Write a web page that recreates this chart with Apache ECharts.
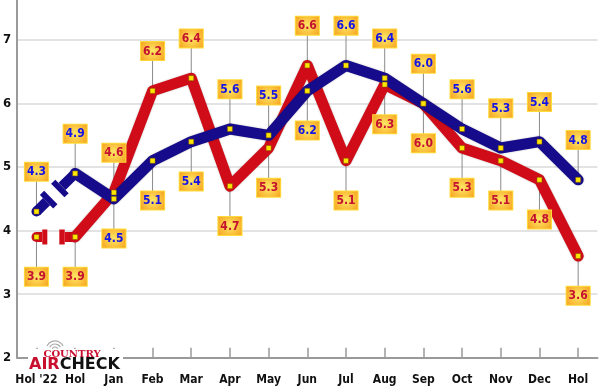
<!DOCTYPE html>
<html><head><meta charset="utf-8">
<script src="https://cdn.jsdelivr.net/npm/echarts@6/dist/echarts.min.js"></script>
<style>html,body{margin:0;padding:0;background:#fff}#c{width:600px;height:392px}</style>
</head><body><div id="c"></div>
<script>
const categories = ["Hol '22","Hol","Jan","Feb","Mar","Apr","May","Jun","Jul","Aug","Sep","Oct","Nov","Dec","Hol"];
const redValues  = [3.9,3.9,4.6,6.2,6.4,4.7,5.3,6.6,5.1,6.3,6.0,5.3,5.1,4.8,3.6];
const blueValues = [4.3,4.9,4.5,5.1,5.4,5.6,5.5,6.2,6.6,6.4,6.0,5.6,5.3,5.4,4.8];
const yMin = 2, yMax = 7.63, yStep = 1;

const FONT = "'DejaVu Sans Condensed','DejaVu Sans',sans-serif";
const RED = '#cf0c17', BLUE = '#160b8a';
const RED_TXT = '#c41230', BLUE_TXT = '#1414e6';
const chart = echarts.init(document.getElementById('c'), null, {renderer:'canvas'});

const boxBg = new echarts.graphic.RadialGradient(0.5,0.5,0.75,[{offset:0,color:'#ffe866'},{offset:1,color:'#f6a21e'}]);

function labelFor(isAbove, txtColor){
  return {show:true, position:isAbove?'top':'bottom', distance:28,
    formatter:p=>p.value.toFixed(1),
    color:txtColor, fontFamily:FONT, fontWeight:'bold', fontSize:12,
    backgroundColor:boxBg, borderColor:'#ffdc3a', borderWidth:1,
    padding:[3,2,2,2], lineHeight:13};
}
const redPts = redValues.map((v,i)=>({value:v, label:labelFor(v>blueValues[i], RED_TXT)}));
const bluePts = blueValues.map((v,i)=>({value:v, label:labelFor(!(redValues[i]>v), BLUE_TXT)}));
const redLine = redValues.map((v,i)=>i===0?'-':v);
const blueLine = blueValues.map((v,i)=>i===0?'-':v);

function leaderSeries(vals, aboveFn){
  return {type:'custom', z:1, silent:true,
    data: vals.map((v,i)=>[i, v, aboveFn(i)?1:-1]),
    renderItem:(params, api)=>{
      const p = api.coord([api.value(0), api.value(1)]);
      const s = api.value(2);
      return {type:'line', shape:{x1:p[0], y1:p[1], x2:p[0], y2:p[1]-s*32},
        style:{stroke:'#8a8a8a', lineWidth:1}};
    }};
}
// broken first segment (Hol '22 -> Hol), with a gap marked by two cross bars
function breakSeries(vals, color, b1, b2, half){
  return {type:'custom', z:2, silent:true,
    data:[[vals[0], vals[1]]],
    renderItem:(params, api)=>{
      const p0 = api.coord([0, api.value(0)]);
      const p1 = api.coord([1, api.value(1)]);
      const dx=p1[0]-p0[0], dy=p1[1]-p0[1];
      const L=Math.hypot(dx,dy), nx=-dy/L, ny=dx/L;
      const at=t=>[p0[0]+dx*t, p0[1]+dy*t];
      const bar=(t0,t1,h)=>{const a=at(t0), b=at(t1);
        return {type:'polygon', shape:{points:[[a[0]+nx*h,a[1]+ny*h],[b[0]+nx*h,b[1]+ny*h],[b[0]-nx*h,b[1]-ny*h],[a[0]-nx*h,a[1]-ny*h]]}, style:{fill:color}};};
      const a1=at(b1[0]), c1=at(b2[1]);
      return {type:'group', children:[
        {type:'line', shape:{x1:p0[0],y1:p0[1],x2:a1[0],y2:a1[1]}, style:{stroke:color, lineWidth:10, lineCap:'butt'}},
        {type:'circle', shape:{cx:p0[0], cy:p0[1], r:5}, style:{fill:color}},
        bar(b1[0],b1[1],half),
        {type:'line', shape:{x1:c1[0],y1:c1[1],x2:p1[0],y2:p1[1]}, style:{stroke:color, lineWidth:10, lineCap:'butt'}},
        bar(b2[0],b2[1],half)
      ]};
    }};
}

const option = {
  animation:false,
  backgroundColor:'#fff',
  grid:{left:17, right:2.5, top:0, bottom:34.3, containLabel:false},
  xAxis:{type:'category', data:categories, boundaryGap:true,
    axisLine:{lineStyle:{color:'#9a9a9a', width:2}},
    axisTick:{show:true, inside:true, alignWithLabel:true, length:10, lineStyle:{color:'#9a9a9a', width:1.5}},
    axisLabel:{color:'#111', fontFamily:FONT, fontWeight:'bold', fontSize:12, margin:16, interval:0},
    splitLine:{show:false}},
  yAxis:{type:'value', min:yMin, max:yMax, interval:yStep,
    axisLine:{show:true, lineStyle:{color:'#9a9a9a', width:2}},
    axisTick:{show:false},
    axisLabel:{color:'#111', fontFamily:FONT, fontWeight:'bold', fontSize:13, margin:6, showMaxLabel:false,
      formatter:v=>Number.isInteger(v)?String(v):''},
    splitLine:{showMaxLine:false, lineStyle:{color:'#dadada', width:1.5}}},
  series:[
    leaderSeries(redValues, i=>redValues[i]>blueValues[i]),
    leaderSeries(blueValues, i=>!(redValues[i]>blueValues[i])),
    {type:'line', z:3, data:redLine, showSymbol:false, connectNulls:false, silent:true,
      lineStyle:{color:RED, width:11, cap:'round', join:'round', shadowColor:'rgba(0,0,0,0.25)', shadowBlur:2}},
    breakSeries(redValues, RED, [0.15,0.28], [0.59,0.73], 7.5),
    {type:'line', z:4, data:blueLine, showSymbol:false, connectNulls:false, silent:true,
      lineStyle:{color:BLUE, width:11, cap:'round', join:'round', shadowColor:'rgba(0,0,0,0.25)', shadowBlur:2}},
    breakSeries(blueValues, BLUE, [0.26,0.37], [0.55,0.66], 9.5),
    {type:'line', z:6, data:redPts, symbol:'rect', symbolSize:5, lineStyle:{width:0, opacity:0},
      itemStyle:{color:'#ffe600', borderColor:'#7a5a00', borderWidth:0.5}, silent:true},
    {type:'line', z:6, data:bluePts, symbol:'rect', symbolSize:5, lineStyle:{width:0, opacity:0},
      itemStyle:{color:'#ffe600', borderColor:'#7a5a00', borderWidth:0.5}, silent:true}
  ],
  graphic:[
    {type:'rect', z:100, shape:{x:28, y:349, width:95, height:23}, style:{fill:'#fff'}},
    {type:'arc', z:101, shape:{cx:55, cy:350, r:3, startAngle:-Math.PI*0.85, endAngle:-Math.PI*0.15}, style:{stroke:'#aaa', fill:null, lineWidth:1.2}},
    {type:'arc', z:101, shape:{cx:55, cy:350, r:6, startAngle:-Math.PI*0.85, endAngle:-Math.PI*0.15}, style:{stroke:'#aaa', fill:null, lineWidth:1.2}},
    {type:'arc', z:101, shape:{cx:55, cy:350, r:9, startAngle:-Math.PI*0.85, endAngle:-Math.PI*0.15}, style:{stroke:'#aaa', fill:null, lineWidth:1.2}},
    {type:'text', z:102, x:72, y:354, style:{text:'COUNTRY', fill:'#c8102e', font:"bold 10px 'DejaVu Serif',serif", align:'center', verticalAlign:'middle'}},
    {type:'text', z:102, x:29, y:364.5, style:{text:'{a|AIR}{b|CHECK}', verticalAlign:'middle', align:'left',
      rich:{a:{fill:'#c8102e', font:"bold 16px 'DejaVu Sans',sans-serif"}, b:{fill:'#111', font:"bold 16px 'DejaVu Sans',sans-serif"}}}}
  ]
};
chart.setOption(option);
</script></body></html>
